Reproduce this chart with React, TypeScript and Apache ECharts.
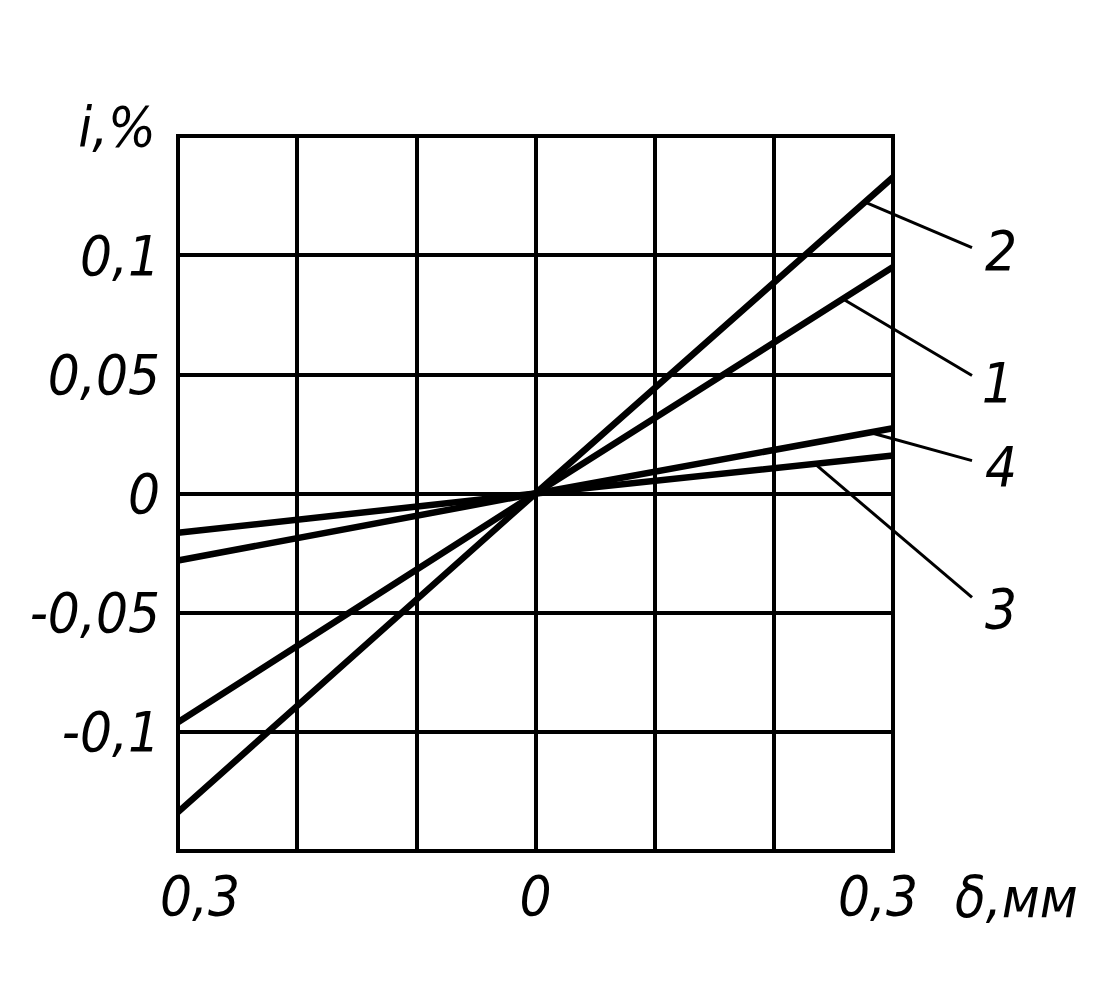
import React, { useEffect, useRef } from "react";
import * as echarts from "echarts";

// δ, mm (x) values of the endpoints of each straight curve
const xValues = [-0.3, 0, 0.3];
// i, % values for each curve
const curve1 = [-0.096, 0, 0.095];
const curve2 = [-0.1337, 0, 0.1327];
const curve3 = [-0.0165, 0, 0.0159];
const curve4 = [-0.0281, 0, 0.0274];
const curveNames = ["1", "2", "3", "4"];

// leader lines (callouts) from curve to number, in data units
const leaderStart = [
  [0.258, 0.0816],
  [0.2765, 0.1223],
  [0.2345, 0.0124],
  [0.2807, 0.0256],
];
const leaderEnd = [
  [0.3663, 0.0495],
  [0.3663, 0.1032],
  [0.3663, -0.0436],
  [0.3663, 0.0138],
];
const labelPos = [
  [0.388, 0.0466],
  [0.3906, 0.102],
  [0.3906, -0.0483],
  [0.3906, 0.0113],
];

const xTickLabels: Record<string, string> = { "-0.3": "{l|0,3}", "0": "0", "0.3": "{r|0,3}" };
const yTickLabels: Record<string, string> = {
  "0.1": "0,1",
  "0.05": "0,05",
  "0": "0",
  "-0.05": "-0,05",
  "-0.1": "-0,1",
};

const FONT = '"Liberation Sans Narrow", "DejaVu Sans Condensed", "Liberation Sans", sans-serif';
const FONT_SIZE = 56;
const textBase = {
  fontFamily: FONT,
  fontStyle: "italic" as const,
  fontWeight: "normal" as const,
  fontSize: FONT_SIZE,
  color: "#000",
};

export default function App() {
  const ref = useRef<HTMLDivElement>(null);
  useEffect(() => {
    if (!ref.current) return;
    const chart = echarts.init(ref.current, null, { renderer: "svg" });
    const curves = [curve1, curve2, curve3, curve4];
    const key = (v: number) => String(Math.round(v * 100) / 100);
    const leaderData = leaderStart.map((s, i) => [
      s[0],
      s[1],
      leaderEnd[i][0],
      leaderEnd[i][1],
      labelPos[i][0],
      labelPos[i][1],
      i,
    ]);
    const option: any = {
      animation: false,
      backgroundColor: "#fff",
      grid: { left: 178, top: 136, width: 715, height: 715, containLabel: false },
      xAxis: {
        type: "value",
        min: -0.3,
        max: 0.3,
        interval: 0.1,
        name: "δ,мм",
        nameLocation: "end",
        nameGap: 62,
        nameTextStyle: { ...textBase, align: "left", verticalAlign: "top", padding: [18, 0, 0, 0] },
        axisLine: { show: false, onZero: false },
        axisTick: { show: false },
        axisLabel: {
          ...textBase,
          margin: 16,
          formatter: (v: number) => xTickLabels[key(v)] ?? "",
          rich: {
            l: { ...textBase, padding: [0, 0, 0, 44] },
            r: { ...textBase, padding: [0, 30, 0, 0] },
          },
        },
        splitLine: { show: true, lineStyle: { color: "#000", width: 4, cap: "square" } },
      },
      yAxis: {
        type: "value",
        min: -0.15,
        max: 0.15,
        interval: 0.05,
        name: "i,%",
        nameLocation: "end",
        nameGap: 10,
        nameTextStyle: { ...textBase, align: "right", verticalAlign: "middle", padding: [0, 22, 0, 0] },
        axisLine: { show: false, onZero: false },
        axisTick: { show: false },
        axisLabel: {
          ...textBase,
          margin: 18,
          formatter: (v: number) => yTickLabels[key(v)] ?? "",
        },
        splitLine: { show: true, lineStyle: { color: "#000", width: 4, cap: "square" } },
      },
      series: [
        ...curves.map((c, i) => ({
          type: "line",
          name: curveNames[i],
          data: xValues.map((x, j) => [x, c[j]]),
          symbol: "none",
          clip: false,
          lineStyle: { color: "#000", width: 6.5 },
          z: 3,
        })),
        {
          type: "custom",
          clip: false,
          data: leaderData,
          encode: { x: [0, 2, 4], y: [1, 3, 5] },
          z: 4,
          renderItem: (params: any, api: any) => {
            const p0 = api.coord([api.value(0), api.value(1)]);
            const p1 = api.coord([api.value(2), api.value(3)]);
            const pl = api.coord([api.value(4), api.value(5)]);
            const idx = api.value(6);
            return {
              type: "group",
              children: [
                {
                  type: "line",
                  shape: { x1: p0[0], y1: p0[1], x2: p1[0], y2: p1[1] },
                  style: { stroke: "#000", lineWidth: 3 },
                },
                {
                  type: "text",
                  x: pl[0],
                  y: pl[1],
                  style: {
                    text: curveNames[idx],
                    fill: "#000",
                    fontFamily: FONT,
                    fontStyle: "italic",
                    fontSize: FONT_SIZE,
                    align: "center",
                    verticalAlign: "middle",
                  },
                },
              ],
            };
          },
        },
      ],
    };
    chart.setOption(option);
    return () => chart.dispose();
  }, []);
  return (
    <div
      ref={ref}
      style={{ position: "absolute", left: 0, top: 0, width: 1114, height: 1004, background: "#fff" }}
    />
  );
}
